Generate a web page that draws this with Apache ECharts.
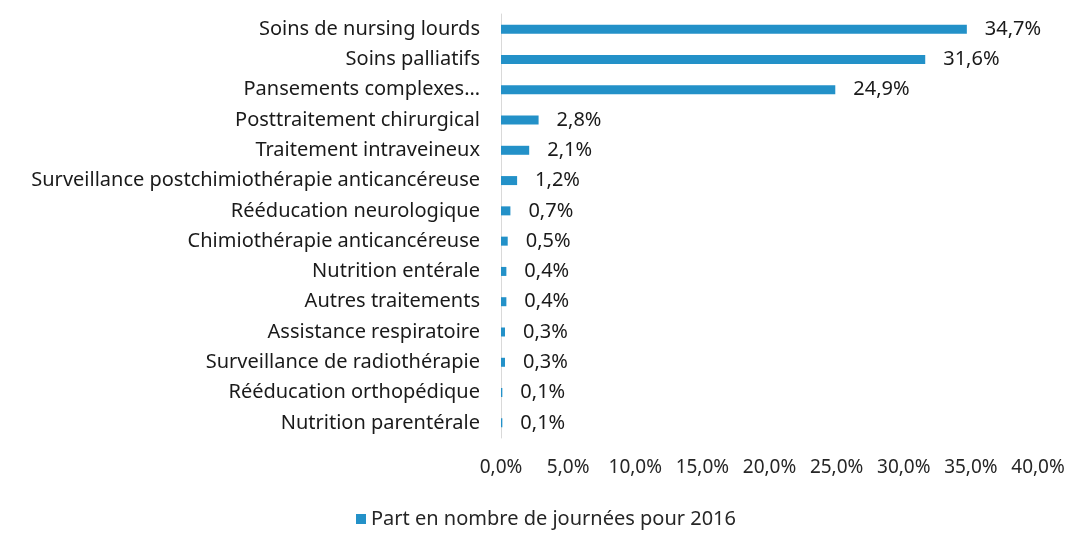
<!DOCTYPE html>
<html>
<head>
<meta charset="utf-8">
<script src="https://cdn.jsdelivr.net/npm/echarts@6/dist/echarts.min.js"></script>
<style>
    html, body { margin: 0; padding: 0; background: #fff; }
    #chart { width: 1073px; height: 534px; }
</style>
</head>
<body>
<div id="chart"></div>
<script>
// catégories (de haut en bas)
var categories = [
    'Soins de nursing lourds',
    'Soins palliatifs',
    'Pansements complexes…',
    'Posttraitement chirurgical',
    'Traitement intraveineux',
    'Surveillance postchimiothérapie anticancéreuse',
    'Rééducation neurologique',
    'Chimiothérapie anticancéreuse',
    'Nutrition entérale',
    'Autres traitements',
    'Assistance respiratoire',
    'Surveillance de radiothérapie',
    'Rééducation orthopédique',
    'Nutrition parentérale'
];
var values = [34.7, 31.6, 24.9, 2.8, 2.1, 1.2, 0.7, 0.5, 0.4, 0.4, 0.3, 0.3, 0.1, 0.1];
var seriesName = 'Part en nombre de journées pour 2016';

function pct(v) {
    return v.toFixed(1).replace('.', ',') + '%';
}

var font = 'Noto Sans';
var chart = echarts.init(document.getElementById('chart'));
var option = {
    animation: false,
    grid: {
        left: 501,
        right: 35,
        top: 14,
        bottom: 96,
        containLabel: false
    },
    legend: {
        bottom: 0,
        left: 351,
        itemWidth: 10,
        itemHeight: 10,
        icon: 'rect',
        itemGap: 10,
        textStyle: { fontFamily: font, fontSize: 20, color: '#262626' },
        data: [seriesName]
    },
    xAxis: {
        type: 'value',
        min: 0,
        max: 40,
        interval: 5,
        axisLine: { show: false },
        axisTick: { show: false },
        splitLine: { show: false },
        axisLabel: {
            margin: 20,
            fontFamily: font,
            fontSize: 19,
            color: '#262626',
            formatter: function (v) { return pct(v); }
        }
    },
    yAxis: {
        type: 'category',
        inverse: true,
        data: categories,
        axisLine: { show: true, lineStyle: { color: '#d9d9d9', width: 1 } },
        axisTick: { show: false },
        axisLabel: {
            margin: 21,
            fontFamily: font,
            fontSize: 20,
            color: '#1a1a1a'
        }
    },
    series: [{
        name: seriesName,
        type: 'bar',
        data: values,
        barWidth: 9,
        itemStyle: { color: '#2391c8' },
        label: {
            show: true,
            position: 'right',
            distance: 18,
            fontFamily: font,
            fontSize: 20,
            color: '#1a1a1a',
            formatter: function (p) { return pct(p.value); }
        }
    }]
};
chart.setOption(option);
window.addEventListener('resize', function () {
    chart.resize();
});
</script>
</body>
</html>
